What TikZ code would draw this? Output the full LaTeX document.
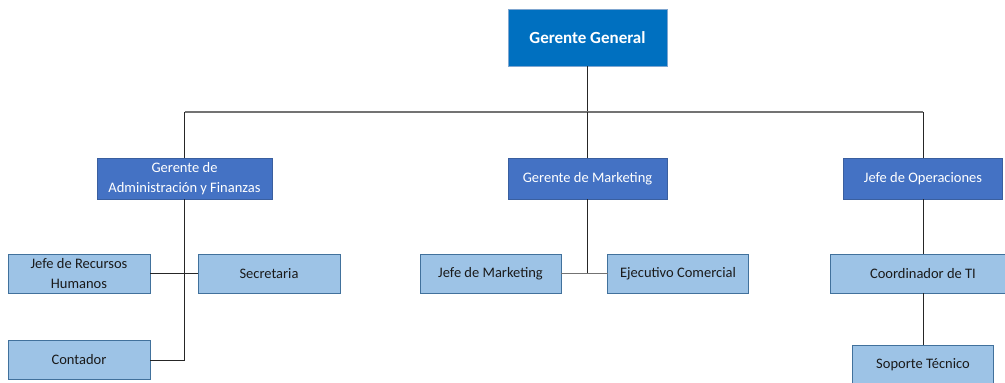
\documentclass[tikz,border=0pt]{standalone}
\usepackage{fontspec}
\setmainfont{Carlito}
\begin{document}
\begin{tikzpicture}[x=1pt,y=-1pt,
  every node/.style={inner sep=0pt, outer sep=0pt, align=center},
  topbox/.style={fill=topblue, draw=topedge, line width=0.8pt, text=white,
    font=\fontsize{17}{20}\selectfont\bfseries},
  midbox/.style={fill=midblue, draw=midedge, line width=0.8pt, text=white,
    font=\fontsize{14.5}{19.5}\selectfont},
  lowbox/.style={fill=lowblue, draw=lowedge, line width=0.8pt, text=lowtext,
    font=\fontsize{14.5}{19.5}\selectfont},
  conn/.style={draw=black!85, line width=1pt},
  bus/.style={draw=black!55, line width=1.2pt},
]
\definecolor{topblue}{HTML}{0070C0}
\definecolor{topedge}{HTML}{7FA6D0}
\definecolor{midblue}{HTML}{4472C4}
\definecolor{midedge}{HTML}{3A5F9F}
\definecolor{lowblue}{HTML}{9DC3E6}
\definecolor{lowedge}{HTML}{41719C}
\definecolor{lowtext}{HTML}{1A1A1A}

\useasboundingbox (0,0) rectangle (1005,383);
\clip (0,0) rectangle (1005,383);

% top level
\node[topbox, minimum width=159pt, minimum height=57pt] (gg) at (587.5,37.5) {Gerente General};

% second level
\node[midbox, minimum width=175pt, minimum height=41pt] (adm) at (184.5,178.5)
  {Gerente de\\Administración y Finanzas};
\node[midbox, minimum width=159pt, minimum height=41pt] (mkt) at (587.5,178.5)
  {Gerente de Marketing};
\node[midbox, minimum width=159pt, minimum height=41pt] (ops) at (923,178.5)
  {Jefe de Operaciones};

% third level: administration
\node[lowbox, minimum width=142pt, minimum height=39pt] (rrhh) at (79,273.5)
  {Jefe de Recursos\\Humanos};
\node[lowbox, minimum width=142pt, minimum height=39pt] (sec) at (269,273.5)
  {Secretaria};
\node[lowbox, minimum width=142pt, minimum height=39pt] (cont) at (79,360)
  {Contador};

% third level: marketing
\node[lowbox, minimum width=141pt, minimum height=39pt] (jm) at (490.5,273.5)
  {Jefe de Marketing};
\node[lowbox, minimum width=141pt, minimum height=39pt] (ec) at (678,273.5)
  {Ejecutivo Comercial};

% third level: operations
\node[lowbox, minimum width=186pt, minimum height=39pt] (ti) at (923,273.5)
  {Coordinador de TI};
\node[lowbox, minimum width=141pt, minimum height=39pt] (sop) at (923,364.5)
  {Soporte Técnico};

% connectors
\coordinate (b) at (587.5,112);
\draw[conn] (gg.south) -- (b);
\draw[bus] (adm.north |- b) -- (ops.north |- b);
\draw[conn] (adm.north |- b) -- (adm.north);
\draw[conn] (b) -- (mkt.north);
\draw[conn] (ops.north |- b) -- (ops.north);

\draw[conn] (adm.south) -- (adm.south |- cont.east) -- (cont.east);
\draw[conn] (rrhh.east) -- (sec.west);

\draw[conn] (mkt.south) -- (mkt.south |- jm.east);
\draw[bus] (jm.east) -- (ec.west);

\draw[conn] (ops.south) -- (ti.north);
\draw[conn] (ti.south) -- (sop.north);
\end{tikzpicture}
\end{document}
